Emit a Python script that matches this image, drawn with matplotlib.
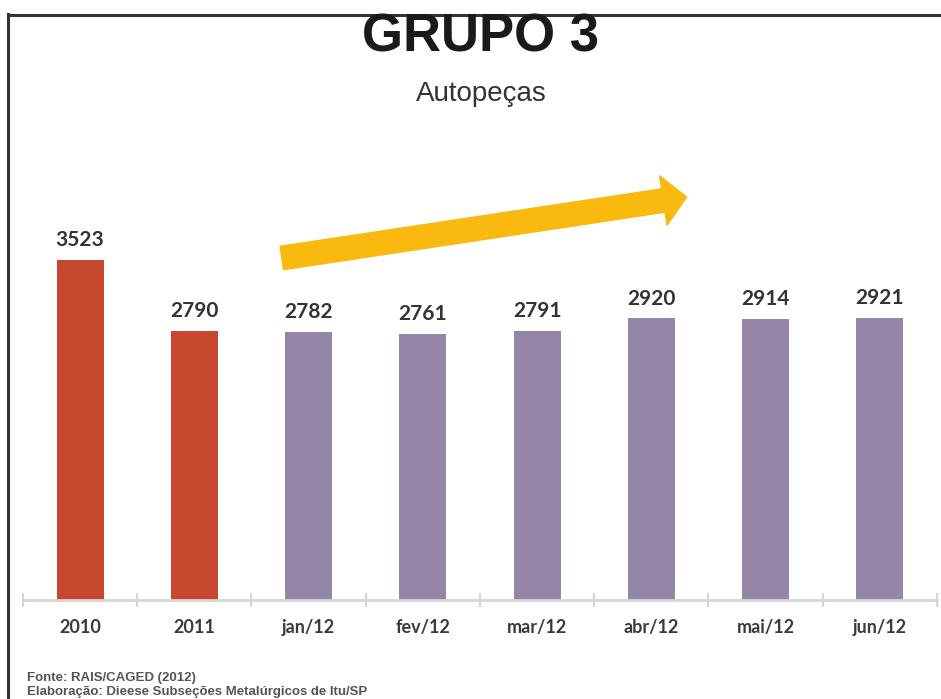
import matplotlib.pyplot as plt
from matplotlib.patches import FancyArrowPatch
from matplotlib.lines import Line2D

categories = ["2010", "2011", "jan/12", "fev/12", "mar/12", "abr/12", "mai/12", "jun/12"]
values = [3523, 2790, 2782, 2761, 2791, 2920, 2914, 2921]
colors = ["#C8472F", "#C8472F"] + ["#9585A6"] * 6

fig = plt.figure(figsize=(9.41, 6.99), dpi=100)
ax = fig.add_axes([0.0244, 0.1416, 0.9713, 0.7153])

x = range(len(categories))
ax.bar(x, values, width=0.41, color=colors, zorder=2)
for xi, v in zip(x, values):
    ax.annotate(str(v), (xi, v), xytext=(0, 7), textcoords="offset points",
                ha="center", va="bottom", fontsize=15, fontweight="bold",
                family="Lato", color="#333333")

ax.set_xlim(-0.5, len(categories) - 0.5)
ax.set_ylim(0, 5181)
ax.set_xticks(list(x))
ax.set_xticklabels(categories, fontsize=13, fontweight="bold", family="Lato", color="#3A3A3A")
ax.tick_params(axis="x", which="major", length=0, pad=14)
ax.set_xticks([i - 0.5 for i in range(len(categories) + 1)], minor=True)
ax.tick_params(axis="x", which="minor", length=10, direction="inout", color="#D6D6D6", width=1.5)
ax.set_yticks([])
for s in ["top", "right", "left"]:
    ax.spines[s].set_visible(False)
ax.spines["bottom"].set_color("#D6D6D6")
ax.spines["bottom"].set_linewidth(2)

# trend arrow
arrow = FancyArrowPatch((1.766, 3544), (5.309, 4176),
                        arrowstyle="simple,head_length=1.7,head_width=3.6,tail_width=1.7",
                        mutation_scale=10, color="#F9B90F", shrinkA=0, shrinkB=0, zorder=3)
ax.add_patch(arrow)

fig.text(0.511, (699 - 51) / 699, "GRUPO 3", ha="center", va="baseline",
         fontsize=38, fontweight="bold", family="Liberation Sans", color="#1A1A1A")
fig.text(0.511, (699 - 101) / 699, "Autopeças", ha="center", va="baseline",
         fontsize=20, family="Liberation Sans", color="#333333")

fig.text(27 / 941, (699 - 681) / 699, "Fonte: RAIS/CAGED (2012)", ha="left", va="baseline",
         fontsize=9.5, fontweight="bold", family="Liberation Sans", color="#555555")
fig.text(27 / 941, 1.5 / 699, "Elaboração: Dieese Subseções Metalúrgicos de Itu/SP",
         ha="left", va="bottom", fontsize=9.5, fontweight="bold",
         family="Liberation Sans", color="#555555")

# frame lines
fig.add_artist(Line2D([7.5 / 941, 1.0], [(699 - 14.5) / 699] * 2, color="#333333", lw=2.2))
fig.add_artist(Line2D([7.5 / 941] * 2, [0, (699 - 13.5) / 699], color="#333333", lw=2.2))

fig.savefig("out.png", dpi=100)
